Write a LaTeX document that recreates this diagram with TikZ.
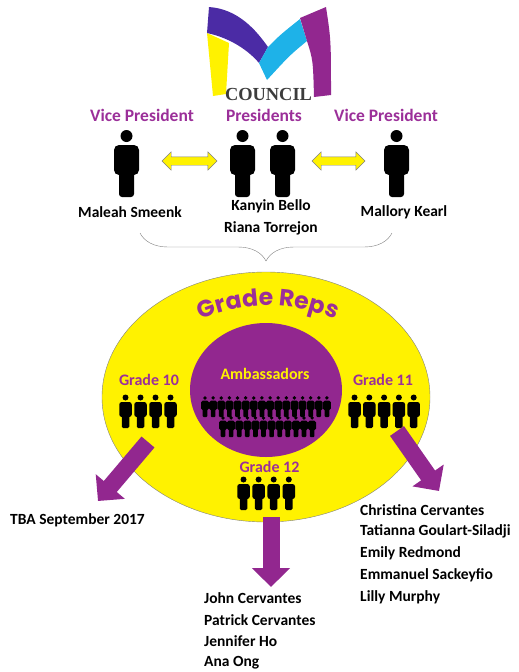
\documentclass[tikz,border=0pt]{standalone}
\usepackage{fontspec}
\setmainfont{Carlito}
\newfontfamily\logofont{Liberation Serif}
\newfontfamily\repsfont{Poppins}
\usetikzlibrary{arrows.meta,shapes.geometric,shapes.arrows,decorations.pathreplacing,decorations.text,positioning}

\definecolor{cpurple}{HTML}{9B2F99}
\definecolor{apurple}{HTML}{92278F}
\definecolor{cyellow}{HTML}{FFF200}
\definecolor{mindigo}{HTML}{4B2BA5}
\definecolor{mcyan}{HTML}{1EB2E8}
\definecolor{councilgray}{HTML}{3C3C3C}

\tikzset{person/.pic = {\begin{scope}[scale=#1]
                          \fill (0,-61) circle (6);
                          \fill[rounded corners=#1*5pt] (-12.5,-22) rectangle (12.5,-52);
                          \fill[rounded corners=#1*3pt] (-7.5,0) rectangle (7.5,-26);
                        \end{scope}},
         pics/person/.default = 1,
         rank/.style = {text=cpurple, font=\fontsize{17.5}{20}\selectfont\bfseries},
         who/.style = {font=\fontsize{15.5}{18}\selectfont\bfseries, inner sep=0pt},
         grade/.style = {text=cpurple, font=\fontsize{16}{18}\selectfont\bfseries},
         link/.style = {double arrow, fill=cyellow, draw=gray, thin,
                        minimum height=#1, minimum width=18pt,
                        double arrow head extend=5pt, inner xsep=0pt, inner ysep=4pt},
         link/.default = 55pt,
         fat/.style = {apurple, line width=17pt, -{Triangle[width=37pt,length=19pt]}}
        }

\begin{document}
\begin{tikzpicture}[x=1pt, y=-1pt]
  \useasboundingbox (0,0) rectangle (519,672);
  % logo
  \fill[cyellow] (207,33) -- (229,43) -- (226,94) -- (213,96) -- cycle;
  \fill[mindigo] (209,7) .. controls (238,9) and (256,30) .. (268,47) -- (259,63)
                 .. controls (248,50) and (230,38) .. (207,33) -- cycle;
  \fill[mcyan] (259,63) -- (268,47) .. controls (280,35) .. (300,19) -- (307,41)
               .. controls (290,55) .. (267,80) -- cycle;
  \fill[apurple] (300,18) -- (326,7) .. controls (331,40) .. (331,95) -- (314,97)
                 .. controls (313,60) .. (307,41) -- cycle;
  \node[font=\logofont\bfseries\fontsize{18.4}{20}\selectfont, text=councilgray] (council) at (268.5,94) {COUNCIL};

  % officers
  \node[rank] (vpl) at (142,115) {Vice President};
  \node[rank] (pres) at (264,115) {Presidents};
  \node[rank] (vpr) at (386,115) {Vice President};
  \pic at (126.5,197) {person=1};
  \pic at (242.5,197) {person=1};
  \pic at (282.5,197) {person=1};
  \pic at (396.5,197) {person=1};
  \node[link=55pt] (al) at (189.5,161) {};
  \node[link=53pt] (ar) at (338.5,161) {};
  \node[who] (maleah) at (130,212) {Maleah Smeenk};
  \node[who] (kanyin) at (271,206) {Kanyin Bello};
  \node[who] (riana) at (271,228) {Riana Torrejon};
  \node[who] (mallory) at (404,212) {Mallory Kearl};
  \coordinate (bl) at (140,233);
  \coordinate (br) at (392,233);
  \draw[gray, decorate, decoration={brace, mirror, amplitude=28pt}] (bl) -- (br);

  % grade reps
  \node[ellipse, draw=gray, fill=cyellow, minimum width=328pt, minimum height=250pt, inner sep=0pt] (reps) at (266,397) {};
  \path[decorate, decoration={text along path, text align=center, text color=cpurple,
        text={|\repsfont\bfseries\fontsize{23.5}{24}\selectfont|Grade Reps}}]
        (184,328) .. controls (236,298) and (300,298) .. (352,328);
  \node[ellipse, fill=apurple, minimum width=152pt, minimum height=134pt, inner sep=0pt] (amb) at (266,390) {};
  \node[grade, text=cyellow] (ambt) at (265,374) {Ambassadors};
  \foreach \x in {0,...,15} \pic at ({205+8.13*\x},417) {person=0.313};
  \foreach \x in {0,...,11} \pic at ({223+8.1*\x},437) {person=0.313};

  \node[grade] (g10) at (149,380) {Grade 10};
  \node[grade] (g11) at (383,380) {Grade 11};
  \node[grade] (g12) at (269.5,467) {Grade 12};
  \foreach \x in {0,...,3} \pic at ({125.5+15*\x},428) {person=0.5};
  \foreach \x in {0,...,4} \pic at ({354.5+14.8*\x},428) {person=0.5};
  \foreach \x in {0,...,3} \pic at ({243.5+15.1*\x},510) {person=0.5};

  % lists
  \node[who, anchor=west] (tba) at (10,520) {TBA September 2017};
  \foreach \n [count=\i from 0] in {John Cervantes, Patrick Cervantes, Jennifer Ho, Ana Ong}
    \node[who, anchor=west] (l12-\i) at (204,{598+21.7*\i}) {\n};
  \foreach \n [count=\i from 0] in {Christina Cervantes, Tatianna Goulart-Siladji, Emily Redmond, Emmanuel Sackeyfio, Lilly Murphy}
    \node[who, anchor=west] (l11-\i) at (360,{510+21.7*\i}) {\n};

  \coordinate (t10) at (148,442);
  \coordinate (h10) at (98,501);
  \coordinate (t11) at (397,431);
  \coordinate (h11) at (439,491);
  \coordinate (t12) at (271,517);
  \coordinate (h12) at (271,587);
  \draw[fat] (t10) -- (h10);
  \draw[fat] (t11) -- (h11);
  \draw[fat] (t12) -- (h12);
\end{tikzpicture}
\end{document}
